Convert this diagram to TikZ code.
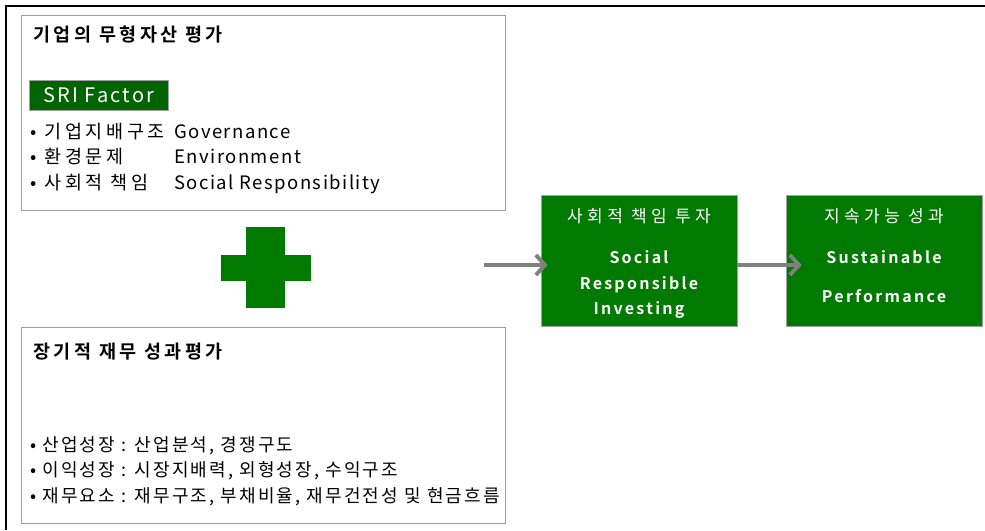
\documentclass[tikz,border=0pt]{standalone}
\usepackage{fontspec}
\setmainfont{Noto Sans CJK KR}[BoldFont={Noto Sans CJK KR Bold}]
\newfontfamily\krtitle{Noto Sans CJK KR Bold}[LetterSpace=19]
\newfontfamily\krspaced{Noto Sans CJK KR}[LetterSpace=20]
\newfontfamily\enspaced{Noto Sans CJK KR}[LetterSpace=8]
\newfontfamily\krlist{Noto Sans CJK KR}[LetterSpace=12]
\newfontfamily\krbox{Noto Sans CJK KR}[LetterSpace=26]
\newfontfamily\enbox{Noto Sans CJK KR Bold}[LetterSpace=14]
\newfontfamily\ensri{Noto Sans CJK KR}[LetterSpace=11]
\definecolor{sriGreen}{RGB}{0,122,0}
\definecolor{factorGreen}{RGB}{0,100,0}
\definecolor{panelGray}{RGB}{160,160,160}
\definecolor{arrowGray}{RGB}{128,128,128}
\usetikzlibrary{arrows.meta, positioning, calc}

\begin{document}
\begin{tikzpicture}[x=1pt, y=-1pt,
  panel/.style={draw=panelGray, line width=1pt, minimum width=484pt, minimum height=195pt, inner sep=0pt},
  paneltitle/.style={font=\fontsize{18.5}{20}\krtitle, anchor=west, inner sep=0pt},
  listtext/.style={align=left, anchor=west, inner sep=0pt},
  greenbox/.style={fill=sriGreen, draw=panelGray, line width=0.8pt, minimum width=196pt, minimum height=131pt, inner sep=0pt},
  boxlabel/.style={text=white, align=center, inner sep=0pt, font=\fontsize{16}{25.5}\selectfont},
  flow/.style={draw=arrowGray, line width=4pt, -{Straight Barb[length=9pt,width=20pt]}}]
  \useasboundingbox (0,0) rectangle (985,530);
  % frame, top and left only
  \draw[line width=2.5pt] (6,530) -- (6,6) -- (985,6);

  % intangible asset panel
  \node[panel] (intangible) at (263,112.5) {};
  \node[paneltitle] (intangtitle) at (33,35) {기업의 무형자산 평가};
  \node[fill=factorGreen, draw=panelGray, text=white, minimum width=139pt, minimum height=30pt,
        font=\fontsize{20}{20}\ensri, anchor=north west] (sri) at (29,80) {SRI Factor};
  \node[listtext, font=\fontsize{18.5}{25.5}\krspaced] (factors) at (30,158.5) {%
    \makebox[144pt][l]{• 기업지배구조}{\enspaced Governance}\\
    \makebox[144pt][l]{• 환경문제}{\enspaced Environment}\\
    \makebox[144pt][l]{• 사회적 책임}{\enspaced Social Responsibility}};

  % plus sign
  \fill[sriGreen] (246,227) rectangle (285,308);
  \fill[sriGreen] (221,255) rectangle (311,281);

  % financial panel
  \node[panel, minimum height=196pt] (financial) at (263,425) {};
  \node[paneltitle] (fintitle) at (33,352) {장기적 재무 성과평가};
  \node[listtext, font=\fontsize{18}{25.5}\krlist] (finlist) at (30,471) {%
    • 산업성장 : 산업분석, 경쟁구도\\
    • 이익성장 : 시장지배력, 외형성장, 수익구조\\
    • 재무요소 : 재무구조, 부채비율, 재무건전성 및 현금흐름};

  % flow boxes
  \node[greenbox] (invest) at (639,260.5) {};
  \node[boxlabel] (investlabel) at ($(invest)+(0,3)$) {{\fontsize{17}{25.5}\krbox 사회적 책임 투자}\\[15.5pt]
    {\enbox Social}\\ {\enbox Responsible}\\ {\enbox Investing}};
  \node[greenbox] (outcome) at (884,260.5) {};
  \node[boxlabel] (outcomelabel) at ($(outcome)+(0,-5)$) {{\fontsize{17}{25.5}\krbox 지속가능 성과}\\[15.5pt]
    {\enbox Sustainable}\\[13.5pt] {\enbox Performance}};

  \coordinate (feed) at (484,265);
  \draw[flow] (feed) -- ($(invest.west)+(7,4.5)$);
  \draw[flow] ($(invest.east)+(0,4.5)$) -- ($(outcome.west)+(16,4.5)$);
\end{tikzpicture}
\end{document}
